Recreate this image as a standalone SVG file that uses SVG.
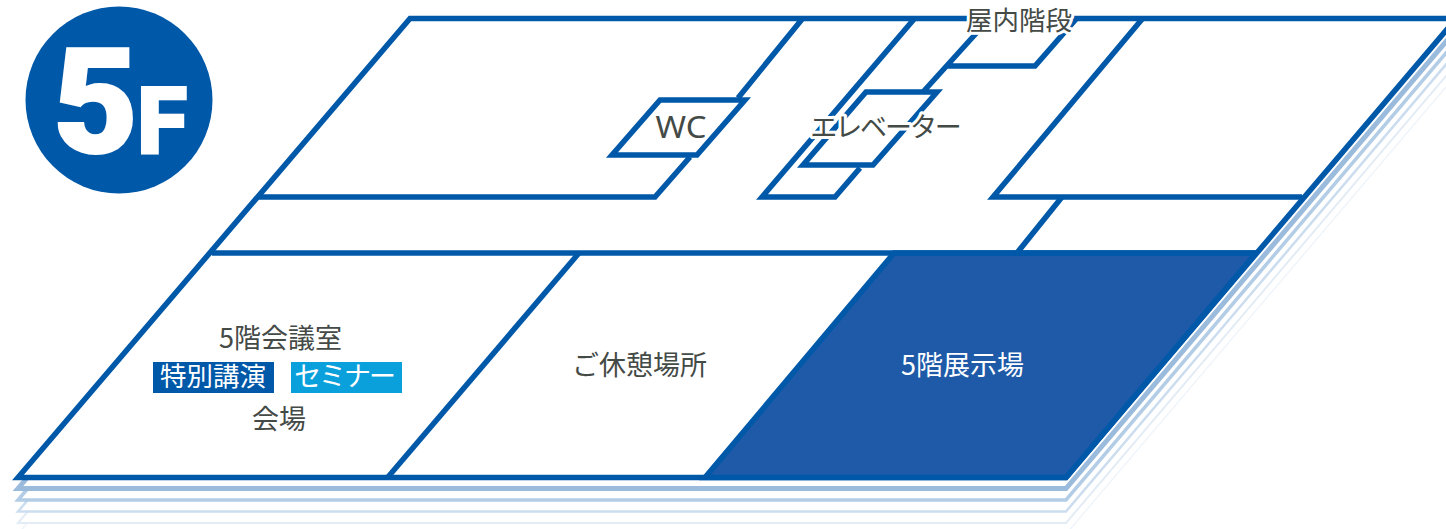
<svg xmlns="http://www.w3.org/2000/svg" width="1446" height="529" viewBox="0 0 1446 529">
<style>
.plate{fill:#fff;stroke-linejoin:miter}
.ln{fill:none;stroke:#0058a9;stroke-width:5.500}
.rm{fill:#fff;stroke:#0058a9;stroke-width:5.500}
text{font-family:"Noto Sans CJK JP","Noto Sans",sans-serif;font-size:27px;fill:#444a46;text-anchor:middle}
.halo{paint-order:stroke;stroke:#fff;stroke-width:6px;stroke-linejoin:round}
.w{fill:#fff}
.kana{letter-spacing:-2.100px}
.big{font-family:Roboto,"Liberation Sans",sans-serif;font-weight:900;fill:#fff;stroke:#fff;stroke-width:2px;text-anchor:start}
</style>
<rect width="1446" height="529" fill="#fff"/>
<g id="stack">
<path class="plate" d="M18 534L410 75H1500V23.500L1066 534Z" stroke="#f0f5fa" stroke-width="1.500"/>
<path class="plate" d="M18 523L410 64H1500V12.500L1066 523Z" stroke="#e3ecf5" stroke-width="2"/>
<path class="plate" d="M18 511.500L410 52.500H1500V1L1066 511.500Z" stroke="#cbddef" stroke-width="2.500"/>
<path class="plate" d="M18 500L410 41H1500V-10.500L1066 500Z" stroke="#b3cde6" stroke-width="3.500"/>
<path class="plate" d="M18 488.500L410 29.500H1500V-22L1066 488.500Z" stroke="#9bbbdd" stroke-width="5"/>
</g>
<g id="floor">
<path class="rm" d="M18 477.500L410 18.500H1500V-33L1066 477.500Z"/>
</g>
<g id="exhibition"><path d="M894 253H1256L1066 477.500H705Z" fill="#1e5aa8" stroke="#0058a9" stroke-width="5.500"/><text class="w" x="962.500" y="375">5階展示場</text></g>
<g id="connectors">
<path class="ln" d="M212 253H1256"/>
<path class="ln" d="M579 253L388 477"/>
<path class="ln" d="M803 18L738 98M690 157L655 197H259"/>
<path class="ln" d="M915 18L762 197H835L860 168"/>
<path class="ln" d="M1143 18L993 197H1302"/>
<path class="ln" d="M1062 197L1017 253"/>
<path class="ln" d="M990 18L923 92M947 66H1035L1077 18"/>
</g>
<g id="wc"><path class="rm" d="M612 155H697L745 100H660Z"/><text x="681" y="138" style="font-family:'Noto Sans',sans-serif;font-size:31px" textLength="51" lengthAdjust="spacingAndGlyphs">WC</text></g>
<g id="elevator"><path class="rm" d="M803 165H873L937 92H866Z"/><text class="halo kana" x="885" y="137">エレベーター</text></g>
<g id="stairs"><text class="halo" x="1019" y="30" style="font-size:26.500px">屋内階段</text></g>
<g id="meeting">
<text x="280.500" y="348">5階会議室</text>
<rect x="153" y="362" width="121" height="31" fill="#0058a9"/>
<text class="w" x="213" y="386" style="font-size:26.500px">特別講演</text>
<rect x="291" y="362" width="111" height="31" fill="#09a0dc"/>
<text class="w kana" x="344" y="386">セミナー</text>
<text x="279" y="429">会場</text>
</g>
<g id="rest"><text x="639.500" y="375">ご休憩場所</text></g>
<g id="badge">
<circle cx="119" cy="100" r="93.500" fill="#0058a9"/>
<text class="big" x="53" y="153" style="font-size:147px">5<tspan x="137" style="font-size:92px">F</tspan></text>
</g>
</svg>
